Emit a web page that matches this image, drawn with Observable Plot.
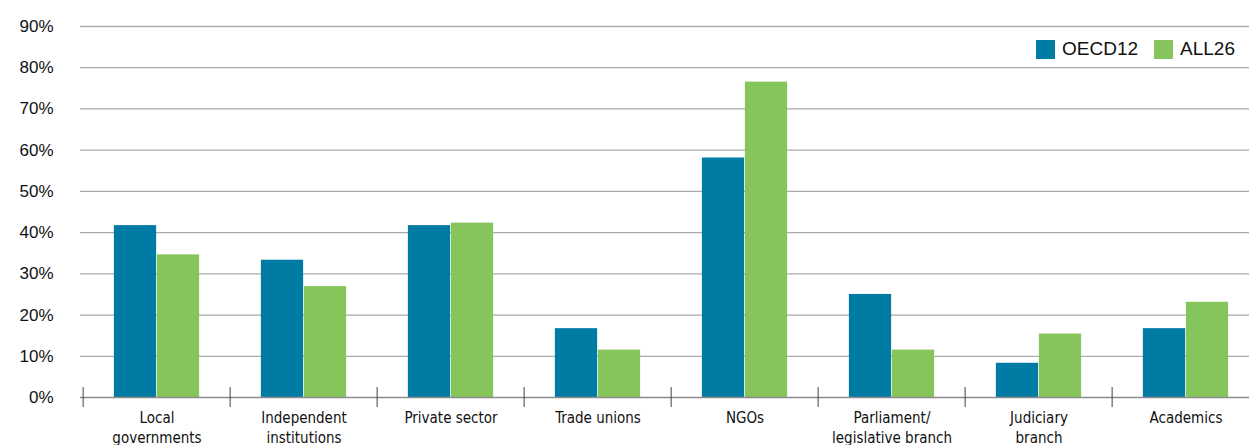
<!DOCTYPE html>
<html>
<head>
<meta charset="utf-8">
<script src="https://cdn.jsdelivr.net/npm/d3@7"></script>
<script src="https://cdn.jsdelivr.net/npm/@observablehq/plot@0.6"></script>
<style>
  html, body { margin: 0; padding: 0; background: #fff; }
  #wrap { position: relative; width: 1249px; height: 445px; overflow: hidden; }
  #legend { position: absolute; top: 38px; left: 1036px; display: flex; align-items: center;
            font-family: "Liberation Sans", Arial, sans-serif; font-size: 19px; color: #111; }
  #legend .sw { width: 19px; height: 19px; display: inline-block; margin-right: 7px; }
  #legend .item { display: flex; align-items: center; margin-right: 16px; }
  .xlab text { font-family: "Liberation Sans Narrow", "Arial Narrow", "DejaVu Sans Condensed", sans-serif; font-stretch: condensed; }
</style>
</head>
<body>
<div id="wrap"><div id="chart"></div><div id="legend"></div></div>
<script>
const categories = ["Local governments", "Independent institutions", "Private sector", "Trade unions", "NGOs", "Parliament/legislative branch", "Judiciary branch", "Academics"];
const tickLabels = ["Local\ngovernments", "Independent\ninstitutions", "Private sector", "Trade unions", "NGOs", "Parliament/\nlegislative branch", "Judiciary\nbranch", "Academics"];
const oecd12 = [41.7, 33.3, 41.7, 16.7, 58.1, 25.0, 8.3, 16.7];
const all26 = [34.6, 26.9, 42.3, 11.5, 76.5, 11.5, 15.4, 23.1];
const seriesNames = ["OECD12", "ALL26"];
const seriesColors = ["#007ba4", "#85c55b"];
const yTicks = [0, 10, 20, 30, 40, 50, 60, 70, 80, 90];

const dataO = categories.map((c, i) => ({category: c, value: oecd12[i]}));
const dataA = categories.map((c, i) => ({category: c, value: all26[i]}));

const width = 1249, marginLeft = 80, marginRight = -13;
const step = (width - marginLeft - marginRight) / categories.length;
const barW = 43;
const outer = step / 2 - barW;

const chart = Plot.plot({
  width,
  height: 445,
  marginLeft,
  marginRight,
  marginTop: 26,
  marginBottom: 48,
  style: {fontFamily: "Liberation Sans, Arial, sans-serif", background: "#fff", overflow: "visible"},
  x: {domain: categories, padding: 0, label: null},
  y: {domain: [0, 90], ticks: yTicks, label: null},
  marks: [
    Plot.gridY(yTicks.filter(d => d > 0), {stroke: "#ababab", strokeOpacity: 1, strokeWidth: 1.3}),
    Plot.axisY({ticks: yTicks, tickSize: 0, tickPadding: 27, tickFormat: d => d + "%", fontSize: 17, fill: "#111", label: null}),
    Plot.barY(dataO, {x: "category", y: "value", fill: seriesColors[0], insetLeft: outer, insetRight: step / 2}),
    Plot.barY(dataA, {x: "category", y: "value", fill: seriesColors[1], insetLeft: step / 2, insetRight: outer}),
    Plot.ruleY([0], {stroke: "#8c8c8c", strokeWidth: 1.5}),
    Plot.axisX({tickSize: 20, dy: -10, dx: -step / 2, text: null, stroke: "#444", strokeWidth: 1, label: null}),
    Plot.axisX({tickSize: 0, tickPadding: 11, tickFormat: (d) => tickLabels[categories.indexOf(d)],
                fontSize: 15, lineHeight: 1.33, fill: "#111", label: null, className: "xlab"})
  ]
});
document.getElementById("chart").appendChild(chart);

const legend = document.getElementById("legend");
seriesNames.forEach((n, i) => {
  const item = document.createElement("span");
  item.className = "item";
  const sw = document.createElement("span");
  sw.className = "sw";
  sw.style.background = seriesColors[i];
  item.appendChild(sw);
  item.appendChild(document.createTextNode(n));
  legend.appendChild(item);
});
</script>
</body>
</html>
